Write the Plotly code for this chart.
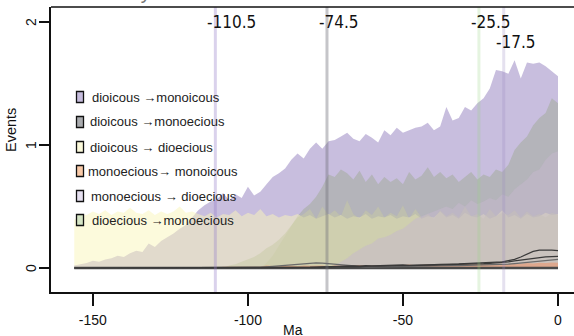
import plotly.graph_objects as go

# ---------------- data ----------------
AGES = list(range(-156, 1, 2))  # Ma

# dioicous -> monoicous
P = [0.02, 0.03, 0.04, 0.06, 0.05, 0.07, 0.08, 0.10, 0.09, 0.12,
     0.14, 0.13, 0.20, 0.17, 0.22, 0.25, 0.28, 0.32, 0.35, 0.41,
     0.47, 0.51, 0.54, 0.56, 0.61, 0.55, 0.60, 0.57, 0.66, 0.59,
     0.62, 0.68, 0.74, 0.77, 0.81, 0.88, 0.93, 0.89, 0.97, 1.02,
     0.97, 1.03, 1.04, 1.07, 1.10, 1.05, 1.03, 1.09, 1.06, 1.02,
     1.12, 1.08, 1.14, 1.10, 1.12, 1.14, 1.15, 1.18, 1.12, 1.15,
     1.31, 1.20, 1.22, 1.31, 1.28, 1.34, 1.38, 1.46, 1.61, 1.60,
     1.58, 1.69, 1.54, 1.67, 1.66, 1.67, 1.64, 1.60, 1.56]

# dioicous -> monoecious
GK = [0, 0, 0, 0, 0, 0, 0, 0, 0, 0,
      0, 0, 0, 0, 0, 0, 0, 0, 0, 0,
      0, 0, 0, 0, 0, 0, 0, 0, 0, 0,
      0, 0.04, 0.10, 0.18, 0.26, 0.34, 0.42, 0.48, 0.52, 0.58,
      0.66, 0.76, 0.74, 0.80, 0.77, 0.72, 0.79, 0.70, 0.76, 0.68,
      0.74, 0.70, 0.73, 0.68, 0.78, 0.72, 0.75, 0.82, 0.74, 0.78,
      0.73, 0.76, 0.70, 0.74, 0.78, 0.72, 0.76, 0.74, 0.80, 0.78,
      0.84, 0.96, 1.02, 1.07, 1.16, 1.22, 1.26, 1.38, 1.34]

# dioicous -> dioecious
Y = [0.39, 0.44, 0.43, 0.46, 0.44, 0.47, 0.43, 0.46, 0.45, 0.49,
     0.45, 0.44, 0.47, 0.43, 0.46, 0.44, 0.46, 0.50, 0.45, 0.46,
     0.44, 0.42, 0.45, 0.41, 0.44, 0.43, 0.47, 0.42, 0.45, 0.43,
     0.48, 0.42, 0.44, 0.41, 0.43, 0.42, 0.44, 0.41, 0.43, 0.40,
     0.42, 0.44, 0.41, 0.43, 0.40, 0.42, 0.41, 0.44, 0.40, 0.42,
     0.41, 0.43, 0.40, 0.42, 0.41, 0.44, 0.40, 0.42, 0.41, 0.46,
     0.41, 0.43, 0.40, 0.45, 0.42, 0.41, 0.44, 0.40, 0.42, 0.47,
     0.41, 0.43, 0.40, 0.44, 0.41, 0.42, 0.45, 0.43, 0.44]

# monoecious -> monoicous
O = [0, 0, 0, 0, 0, 0, 0, 0, 0, 0,
     0, 0, 0, 0, 0, 0, 0, 0, 0, 0,
     0, 0, 0, 0.005, 0.01, 0.01, 0.015, 0.01, 0.012, 0.015,
     0.01, 0.02, 0.015, 0.012, 0.018, 0.02, 0.015, 0.02, 0.018, 0.022,
     0.02, 0.015, 0.02, 0.018, 0.022, 0.02, 0.025, 0.02, 0.022, 0.02,
     0.025, 0.022, 0.02, 0.025, 0.028, 0.022, 0.025, 0.03, 0.025, 0.028,
     0.03, 0.025, 0.03, 0.032, 0.028, 0.03, 0.035, 0.03, 0.032, 0.035,
     0.03, 0.038, 0.035, 0.04, 0.036, 0.042, 0.04, 0.045, 0.042]

# monoecious -> dioecious
L = [0, 0, 0, 0, 0, 0, 0, 0, 0, 0,
     0, 0, 0, 0, 0, 0, 0, 0, 0, 0,
     0, 0, 0, 0, 0, 0, 0, 0, 0, 0,
     0, 0, 0, 0, 0, 0, 0, 0, 0, 0,
     0, 0, 0.02, 0.05, 0.08, 0.12, 0.15, 0.18, 0.20, 0.24,
     0.25, 0.27, 0.30, 0.32, 0.36, 0.40, 0.42, 0.44, 0.46, 0.48,
     0.50, 0.48, 0.53, 0.50, 0.55, 0.52, 0.54, 0.57, 0.55, 0.60,
     0.58, 0.64, 0.68, 0.72, 0.78, 0.80, 0.88, 0.93, 0.95]

# dioecious -> monoecious
GR = [0, 0, 0, 0, 0, 0, 0, 0, 0, 0,
      0, 0, 0, 0, 0, 0, 0, 0, 0, 0,
      0, 0, 0, 0, 0, 0.02, 0.03, 0.05, 0.07, 0.09,
      0.12, 0.16, 0.19, 0.23, 0.28, 0.35, 0.41, 0.44, 0.48, 0.40,
      0.50, 0.43, 0.47, 0.42, 0.55, 0.44, 0.40, 0.47, 0.43, 0.50,
      0.41, 0.45, 0.42, 0.51, 0.40, 0.48, 0.41, 0.44, 0.40, 0.47,
      0.42, 0.45, 0.41, 0.50, 0.42, 0.44, 0.40, 0.48, 0.42, 0.45,
      0.43, 0.47, 0.41, 0.46, 0.42, 0.44, 0.41, 0.45, 0.43]

# thin summary lines near zero
LINE_A = [0, 0, 0, 0, 0, 0, 0, 0, 0, 0,
          0, 0, 0, 0, 0, 0, 0, 0, 0, 0,
          0, 0, 0, 0, 0, 0, 0, 0, 0, 0,
          0, 0, 0, 0, 0, 0, 0, 0,
          0.005, 0.008, 0.01, 0.012, 0.015, 0.012, 0.015, 0.018, 0.015, 0.02,
          0.018, 0.02, 0.022, 0.02, 0.022, 0.025, 0.022, 0.025, 0.028, 0.025,
          0.028, 0.03, 0.028, 0.032, 0.033, 0.035, 0.036, 0.038, 0.04, 0.042,
          0.045, 0.05, 0.06, 0.07, 0.09, 0.11, 0.135, 0.145, 0.148, 0.145, 0.142]
LINE_B = [0, 0, 0, 0, 0, 0, 0, 0, 0, 0,
          0, 0, 0, 0, 0, 0, 0, 0, 0, 0,
          0, 0, 0, 0, 0, 0, 0, 0, 0, 0,
          0, 0, 0, 0, 0, 0, 0, 0,
          0.004, 0.006, 0.008, 0.01, 0.012, 0.01, 0.013, 0.012, 0.015, 0.014,
          0.016, 0.015, 0.018, 0.017, 0.02, 0.019, 0.021, 0.02, 0.022, 0.023,
          0.024, 0.025, 0.026, 0.028, 0.027, 0.03, 0.032, 0.033, 0.035, 0.038,
          0.04, 0.045, 0.05, 0.058, 0.065, 0.075, 0.082, 0.085, 0.09, 0.092, 0.095]
LINE_C = [0, 0, 0, 0, 0, 0, 0, 0, 0, 0,
          0, 0, 0, 0, 0, 0, 0, 0, 0, 0,
          0, 0, 0, 0, 0, 0, 0, 0, 0,
          0.003, 0.006, 0.01, 0.014, 0.018, 0.024, 0.03, 0.034, 0.038, 0.04,
          0.042, 0.04, 0.036, 0.03, 0.024, 0.018, 0.014, 0.012, 0.01, 0.01,
          0.01, 0.012, 0.011, 0.013, 0.012, 0.014, 0.015, 0.014, 0.016, 0.017,
          0.016, 0.018, 0.019, 0.02, 0.021, 0.022, 0.024, 0.025, 0.026, 0.028,
          0.03, 0.032, 0.036, 0.04, 0.046, 0.052, 0.058, 0.062, 0.066, 0.07]

EVENT_AGES = [-110.5, -74.5, -25.5, -17.5]
EVENT_LABELS = ["-110.5", "-74.5", "-25.5", "-17.5"]
EVENT_LABEL_Y = [2.0, 2.0, 2.0, 1.84]

LEGEND_LABELS = ["dioicous \u2192monoicous", "dioicous \u2192monoecious",
                 "dioicous \u2192 dioecious", "monoecious\u2192 monoicous",
                 "monoecious \u2192 dioecious", "dioecious \u2192monoecious"]

X_TICKS = [-150, -100, -50, 0]
Y_TICKS = [0, 1, 2]

# ---------------- styling ----------------
W, H = 574, 336
ML, MR, MT, MB = 51, 0, 7, 44
PW, PH = W - ML - MR, H - MT - MB
X_RANGE = [-163.5, 5.16]
Y_RANGE = [-0.195, 2.122]

def px2paper_x(px):
    return (px - ML) / PW

def px2paper_y(py):
    return 1 - (py - MT) / PH

def val2paper_y(v):
    return (v - Y_RANGE[0]) / (Y_RANGE[1] - Y_RANGE[0])

series = [
    (P, "rgba(145,125,189,0.5)"),
    (GK, "rgba(160,170,150,0.5)"),
    (Y, "rgba(249,245,185,0.5)"),
    (GR, "rgba(200,201,164,0.5)"),
    (L, "rgba(197,183,205,0.5)"),
    (O, "rgba(235,150,110,0.6)"),
]
legend_colors = ["#c6bcdd", "#a9abae", "#fcfadb", "#f9caa8", "#e6e0f0", "#d5e5c5"]
event_line_colors = ["rgba(150,125,200,0.35)", "rgba(110,110,120,0.4)",
                     "rgba(150,210,130,0.25)", "rgba(150,135,190,0.25)"]

fig = go.Figure()
for vals, col in series:
    fig.add_trace(go.Scatter(x=AGES, y=vals, mode="lines", fill="tozeroy",
                             fillcolor=col, line=dict(width=0),
                             hoverinfo="skip", showlegend=False))

fig.add_trace(go.Scatter(x=AGES, y=[0 for _ in AGES], mode="lines",
                         line=dict(color="#4a4a4a", width=2.5), showlegend=False))
for vals, col in [(LINE_C, "#6a6a6a"), (LINE_B, "#3a3a3a"), (LINE_A, "#3a3a3a")]:
    fig.add_trace(go.Scatter(x=AGES, y=vals, mode="lines",
                             line=dict(color=col, width=1.2), showlegend=False))

shapes = []
annotations = []
for age, lab, ly, col in zip(EVENT_AGES, EVENT_LABELS, EVENT_LABEL_Y, event_line_colors):
    shapes.append(dict(type="line", xref="x", yref="paper", x0=age, x1=age,
                       y0=0, y1=1, line=dict(color=col, width=3), layer="above"))
    annotations.append(dict(x=age, y=ly, xref="x", yref="y", text=lab,
                            showarrow=False, xanchor="left", yanchor="middle",
                            xshift=-10,
                            font=dict(family="Liberation Sans Narrow, DejaVu Sans Condensed",
                                      size=17, color="#111")))

# top border of the box
shapes.append(dict(type="line", xref="paper", yref="paper", x0=0, x1=1, y0=1, y1=1,
                   line=dict(color="#111", width=1.5)))

# y tick labels (rotated, as in the original)
for v in Y_TICKS:
    annotations.append(dict(x=px2paper_x(31), y=val2paper_y(v), xref="paper", yref="paper",
                            text=str(v), showarrow=False, textangle=-90,
                            xanchor="center", yanchor="middle",
                            font=dict(family="Liberation Sans, Arial", size=14, color="#111")))

# legend
leg_y = [97, 122, 147, 171, 196, 220]
leg_tx = [90, 88, 88, 86, 89, 90]
for lab, col, cy, tx in zip(LEGEND_LABELS, legend_colors, leg_y, leg_tx):
    shapes.append(dict(type="rect", xref="paper", yref="paper",
                       x0=px2paper_x(76.5), x1=px2paper_x(83.5),
                       y0=px2paper_y(cy + 5.5), y1=px2paper_y(cy - 5.5),
                       fillcolor=col, line=dict(color="#111", width=1.3)))
    annotations.append(dict(x=px2paper_x(tx), y=px2paper_y(cy), xref="paper", yref="paper",
                            text=lab, showarrow=False, xanchor="left", yanchor="middle",
                            font=dict(family="Liberation Sans, Arial", size=13, color="#222")))

# axis titles
annotations.append(dict(x=px2paper_x(293), y=px2paper_y(330), xref="paper", yref="paper",
                        text="Ma", showarrow=False, xanchor="center", yanchor="middle",
                        font=dict(family="Liberation Sans, Arial", size=14, color="#111")))
annotations.append(dict(x=px2paper_x(11), y=px2paper_y(130), xref="paper", yref="paper",
                        text="Events", showarrow=False, textangle=-90,
                        xanchor="center", yanchor="middle",
                        font=dict(family="Liberation Sans, Arial", size=14.5, color="#111")))
# title (cut by the top edge in the original picture)
annotations.append(dict(x=px2paper_x(62), y=1, xref="paper", yref="paper",
                        text="Sexual system", showarrow=False, xanchor="left",
                        yanchor="bottom", yshift=2,
                        font=dict(family="Liberation Sans Narrow, Arial", size=20, color="#777")))

fig.update_layout(
    width=W, height=H, margin=dict(l=ML, r=MR, t=MT, b=MB),
    paper_bgcolor="white", plot_bgcolor="white",
    shapes=shapes, annotations=annotations, showlegend=False,
    font=dict(family="Liberation Sans, Arial", size=14, color="#111"),
)
fig.update_xaxes(range=X_RANGE, tickvals=X_TICKS, ticktext=[str(v) for v in X_TICKS],
                 ticks="outside", ticklen=12, tickwidth=1.5, tickcolor="#111",
                 showline=True, linecolor="#111", linewidth=1.5, showgrid=False,
                 zeroline=False, ticklabelstandoff=2,
                 tickfont=dict(family="Liberation Sans, Arial", size=14, color="#111"))
fig.update_yaxes(range=Y_RANGE, tickvals=Y_TICKS, showticklabels=False,
                 ticks="outside", ticklen=10, tickwidth=1.5, tickcolor="#111",
                 showline=True, linecolor="#111", linewidth=1.5, showgrid=False,
                 zeroline=False)

fig.write_html("out.html")
